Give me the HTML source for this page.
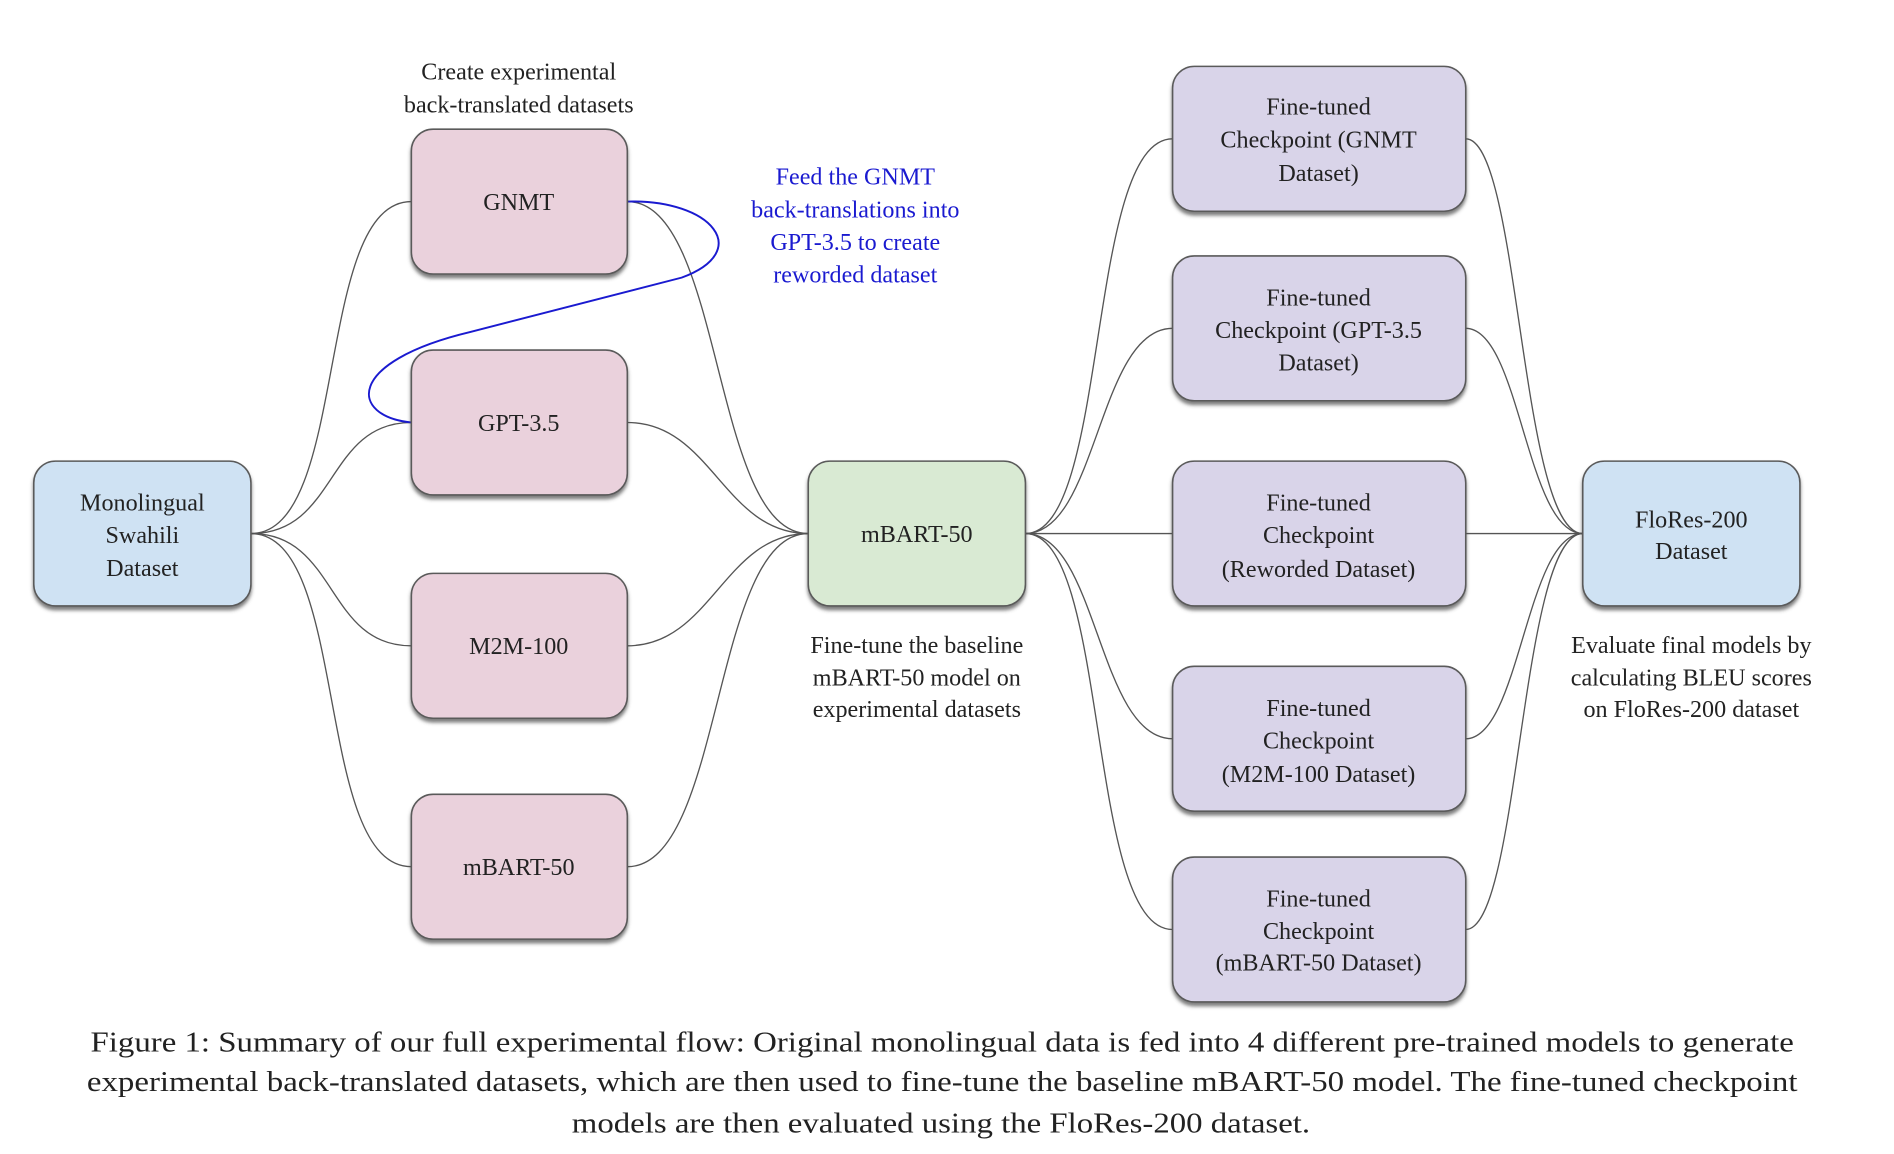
<!DOCTYPE html>
<html><head><meta charset="utf-8"><style>
html,body{margin:0;padding:0;background:#fff;}
svg{display:block}
text{font-family:"Liberation Serif",serif;}
.k{fill:#222}
.b{fill:#1a1ad0}
</style></head><body>
<svg width="1894" height="1154" viewBox="0 0 1570 956" preserveAspectRatio="none" xmlns="http://www.w3.org/2000/svg">
<defs>
<filter id="sh" x="-10%" y="-10%" width="120%" height="130%">
<feDropShadow dx="0" dy="3" stdDeviation="1.5" flood-color="#444" flood-opacity="0.7"/>
</filter>
</defs>
<g fill="none" stroke="#555" stroke-width="1.1">
<path d="M208,442 C290,442 260,167 341,167"/>
<path d="M208,442 C280,442 270,350 341,350"/>
<path d="M208,442 C280,442 270,535 341,535"/>
<path d="M208,442 C290,442 260,718 341,718"/>
<path d="M520,167 C600,167 590,442 670,442"/>
<path d="M520,350 C590,350 600,442 670,442"/>
<path d="M520,535 C590,535 600,442 670,442"/>
<path d="M520,718 C600,718 590,442 670,442"/>
<path d="M850,442 C920,442 900,115 972,115"/>
<path d="M850,442 C910,442 910,272 972,272"/>
<path d="M850,442 L972,442"/>
<path d="M850,442 C910,442 910,612 972,612"/>
<path d="M850,442 C920,442 900,770 972,770"/>
<path d="M1215,115 C1260,115 1260,442 1312,442"/>
<path d="M1215,272 C1260,272 1265,442 1312,442"/>
<path d="M1215,442 L1312,442"/>
<path d="M1215,612 C1260,612 1265,442 1312,442"/>
<path d="M1215,770 C1260,770 1260,442 1312,442"/>
</g>
<path d="M520,167 C590,165 625,208 565,230 L390,275 C285,300 290,345 341,350" fill="none" stroke="#1a1ad0" stroke-width="1.6"/>
<g stroke="#5a5a5a" stroke-width="1.3" filter="url(#sh)">
<rect x="28" y="382" width="180" height="120" rx="18" fill="#cfe2f3"/>
<rect x="341" y="107" width="179" height="120" rx="18" fill="#ead1dc"/>
<rect x="341" y="290" width="179" height="120" rx="18" fill="#ead1dc"/>
<rect x="341" y="475" width="179" height="120" rx="18" fill="#ead1dc"/>
<rect x="341" y="658" width="179" height="120" rx="18" fill="#ead1dc"/>
<rect x="670" y="382" width="180" height="120" rx="18" fill="#d9ead3"/>
<rect x="972" y="55" width="243" height="120" rx="18" fill="#d9d4e9"/>
<rect x="972" y="212" width="243" height="120" rx="18" fill="#d9d4e9"/>
<rect x="972" y="382" width="243" height="120" rx="18" fill="#d9d4e9"/>
<rect x="972" y="552" width="243" height="120" rx="18" fill="#d9d4e9"/>
<rect x="972" y="710" width="243" height="120" rx="18" fill="#d9d4e9"/>
<rect x="1312" y="382" width="180" height="120" rx="18" fill="#cfe2f3"/>
</g>
<g font-size="20" text-anchor="middle" class="k">
<text class="k" x="118" y="423">Monolingual</text><text class="k" x="118" y="450">Swahili</text><text class="k" x="118" y="477">Dataset</text>
<text class="k" x="430" y="174">GNMT</text>
<text class="k" x="430" y="357">GPT-3.5</text>
<text class="k" x="430" y="542">M2M-100</text>
<text class="k" x="430" y="725">mBART-50</text>
<text class="k" x="760" y="449">mBART-50</text>
<text class="k" x="1093" y="95">Fine-tuned</text><text class="k" x="1093" y="122">Checkpoint (GNMT</text><text class="k" x="1093" y="150">Dataset)</text>
<text class="k" x="1093" y="253">Fine-tuned</text><text class="k" x="1093" y="280">Checkpoint (GPT-3.5</text><text class="k" x="1093" y="307">Dataset)</text>
<text class="k" x="1093" y="423">Fine-tuned</text><text class="k" x="1093" y="450">Checkpoint</text><text class="k" x="1093" y="478">(Reworded Dataset)</text>
<text class="k" x="1093" y="593">Fine-tuned</text><text class="k" x="1093" y="620">Checkpoint</text><text class="k" x="1093" y="648">(M2M-100 Dataset)</text>
<text class="k" x="1093" y="751">Fine-tuned</text><text class="k" x="1093" y="778">Checkpoint</text><text class="k" x="1093" y="804">(mBART-50 Dataset)</text>
<text class="k" x="1402" y="437">FloRes-200</text><text class="k" x="1402" y="463">Dataset</text>
<text class="k" x="430" y="66">Create experimental</text><text class="k" x="430" y="93">back-translated datasets</text>
<text class="k" x="760" y="541">Fine-tune the baseline</text><text class="k" x="760" y="568">mBART-50 model on</text><text class="k" x="760" y="594">experimental datasets</text>
<text class="k" x="1402" y="541">Evaluate final models by</text><text class="k" x="1402" y="568">calculating BLEU scores</text><text class="k" x="1402" y="594">on FloRes-200 dataset</text>
<text class="b" x="709" y="153">Feed the GNMT</text><text class="b" x="709" y="180">back-translations into</text><text class="b" x="709" y="207">GPT-3.5 to create</text><text class="b" x="709" y="234">reworded dataset</text>
</g>
<g font-size="24">
<text class="k" x="75" y="871" textLength="1412" lengthAdjust="spacingAndGlyphs">Figure 1: Summary of our full experimental flow: Original monolingual data is fed into 4 different pre-trained models to generate</text>
<text class="k" x="72" y="904" textLength="1418" lengthAdjust="spacingAndGlyphs">experimental back-translated datasets, which are then used to fine-tune the baseline mBART-50 model. The fine-tuned checkpoint</text>
<text class="k" x="474" y="938" textLength="612" lengthAdjust="spacingAndGlyphs">models are then evaluated using the FloRes-200 dataset.</text>
</g>
</svg>
</body></html>
